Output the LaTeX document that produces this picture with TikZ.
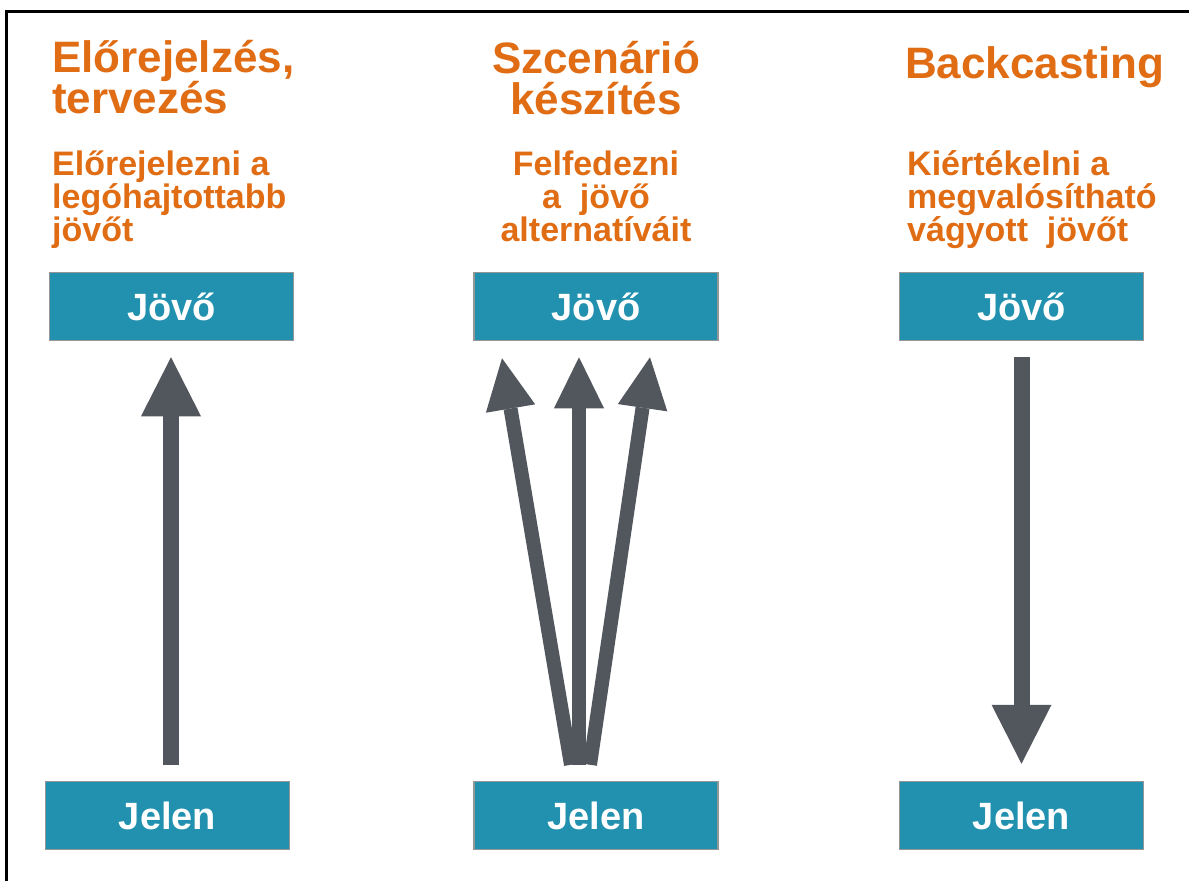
\documentclass[tikz,border=0pt]{standalone}
\usepackage{fontspec}
\setmainfont{Liberation Sans}
\usetikzlibrary{arrows.meta}
\definecolor{orng}{RGB}{224,108,20}
\definecolor{teal}{RGB}{34,145,175}
\definecolor{arrgray}{RGB}{82,87,94}
\definecolor{boxline}{RGB}{150,150,150}
\tikzset{
  ttl/.style={text=orng, inner sep=0pt, font=\fontsize{44}{41}\selectfont\bfseries},
  sub/.style={text=orng, inner sep=0pt, font=\fontsize{34}{33}\selectfont\bfseries},
  tbox/.style={draw=boxline, line width=1.5pt, fill=teal, text=white, inner sep=0pt,
    minimum width=244pt, minimum height=68pt, text height=28pt, text depth=0pt,
    font=\fontsize{38}{38}\selectfont\bfseries},
  bigarr/.style={draw=arrgray, line width=16pt,
    -{Triangle[length=59pt,width=60pt,line width=0pt]}},
  smallarr/.style={draw=arrgray, line width=14pt,
    -{Triangle[length=51pt,width=50pt,line width=0pt]}},
  frame/.style={draw=black, line width=3pt}
}
\begin{document}
\begin{tikzpicture}[x=1pt,y=-1pt]
\useasboundingbox (0,0) rectangle (1189,881);
% frame (cropped)
\coordinate (fa) at (6,881);
\coordinate (fb) at (6,11.5);
\coordinate (fc) at (1189,11.5);
\draw[frame] (fa) -- (fb) -- (fc);

% column 1
\node[ttl, anchor=base west] (t1a) at (52,72) {Előrejelzés,};
\node[ttl, anchor=base west] (t1b) at (52,113) {tervezés};
\node[sub, anchor=base west] (s1a) at (52,175) {Előrejelezni a};
\node[sub, anchor=base west] (s1b) at (52,208) {legóhajtottabb};
\node[sub, anchor=base west] (s1c) at (52,241) {jövőt};
\node[tbox] (f1) at (171.5,306.5) {Jövő};
\node[tbox] (j1) at (167.5,815.5) {Jelen};
\draw[bigarr] ([xshift=3.5pt,yshift=16pt]j1.north) -- ([xshift=-0.5pt,yshift=-16pt]f1.south);

% column 2
\node[ttl, anchor=base] (t2a) at (596,73) {Szcenárió};
\node[ttl, anchor=base] (t2b) at (596,114) {készítés};
\node[sub, anchor=base] (s2a) at (596,175) {Felfedezni};
\node[sub, anchor=base] (s2b) at (596,208) {a~ jövő};
\node[sub, anchor=base] (s2c) at (596,241) {alternatíváit};
\node[tbox] (f2) at (596,306.5) {Jövő};
\node[tbox] (j2) at (596,815.5) {Jelen};
\draw[smallarr] ([xshift=-25pt,yshift=16pt]j2.north) -- ([xshift=-94pt,yshift=-17pt]f2.south);
\draw[smallarr] ([xshift=-17pt,yshift=16pt]j2.north) -- ([xshift=-17pt,yshift=-16pt]f2.south);
\draw[smallarr] ([xshift=-6pt,yshift=16pt]j2.north) -- ([xshift=54pt,yshift=-16pt]f2.south);

% column 3
\node[ttl, anchor=base west] (t3a) at (905,78) {Backcasting};
\node[sub, anchor=base west] (s3a) at (907,175) {Kiértékelni a};
\node[sub, anchor=base west] (s3b) at (907,208) {megvalósítható};
\node[sub, anchor=base west] (s3c) at (907,241) {vágyott~ jövőt};
\node[tbox] (f3) at (1021.5,306.5) {Jövő};
\node[tbox] (j3) at (1021.5,815.5) {Jelen};
\draw[bigarr] ([yshift=-16pt]f3.south) -- ([yshift=17pt]j3.north);
\end{tikzpicture}
\end{document}
